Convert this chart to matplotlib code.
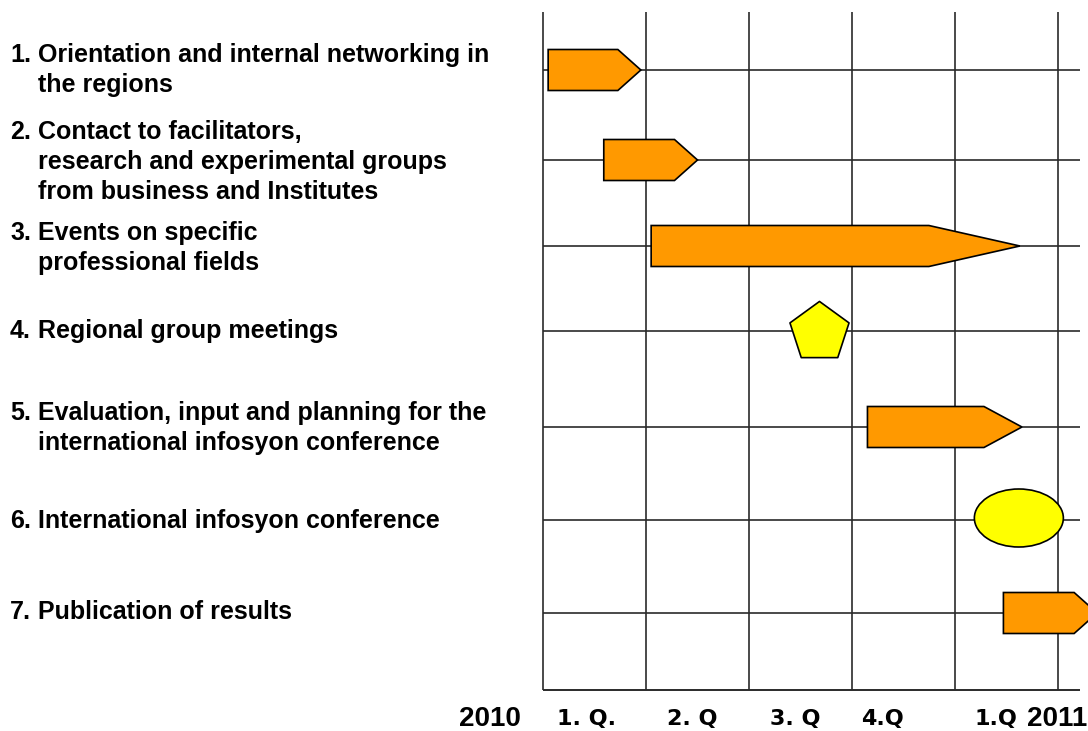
import matplotlib
matplotlib.use("Agg")
import matplotlib.pyplot as plt
import matplotlib.transforms as mtransforms
from matplotlib.patches import Polygon, Ellipse

# tasks, top to bottom
task_nums = ["1.", "2.", "3.", "4.", "5.", "6.", "7."]
task_text = [
    "Orientation and internal networking in\nthe regions",
    "Contact to facilitators,\nresearch and experimental groups\nfrom business and Institutes",
    "Events on specific\nprofessional fields",
    "Regional group meetings",
    "Evaluation, input and planning for the\ninternational infosyon conference",
    "International infosyon conference",
    "Publication of results",
]
task_kind = ["arrow", "arrow", "arrow", "pentagon", "arrow", "ellipse", "arrow"]
# time in quarters counted from the start of 2010 (events: start == end == centre)
task_start = [0.05, 0.59, 1.05, 2.68, 3.15, 4.62, 4.47]
task_end = [0.95, 1.50, 4.63, 2.68, 4.65, 4.62, 5.38]

quarter_labels = ["1. Q.", "2. Q", "3. Q", "4.Q", "1.Q"]
year_labels = ["2010", "2011"]

# layout (pixels of the 1088x731 canvas)
PX_Q = 103.0                      # pixels per quarter
row_y = [70, 160, 246, 331, 427, 520, 613]
label_y = [70, 162, 248, 331, 428, 521, 612]
head_px = [23, 23, 91, 0, 38, 0, 23]
bar_h = 41
quarter_label_x = [0.42, 1.45, 2.45, 3.30, 4.40]
year_label_x = [-0.52, 4.70]
orange = "#FF9900"
yellow = "#FFFF00"
gridc = "#2a2a2a"

fig = plt.figure(figsize=(10.88, 7.31), dpi=100)
fig.patch.set_facecolor("white")

x_max = (1080 - 543) / PX_Q
ax = fig.add_axes([543 / 1088, 1 - 690 / 731, 537 / 1088, 678 / 731])
ax.set_xlim(0, x_max)
ax.set_ylim(690, 12)
ax.axis("off")

# grid
ax.vlines(range(6), 12, 690, colors=gridc, lw=1.2, zorder=1, clip_on=False)
ax.hlines(row_y, 0, x_max, colors=gridc, lw=1.2, zorder=1, clip_on=False)
ax.hlines(690, 0, x_max, colors=gridc, lw=1.4, zorder=1, clip_on=False)

for i, kind in enumerate(task_kind):
    y = row_y[i]
    if kind == "arrow":
        x0, x1 = task_start[i], task_end[i]
        hx = head_px[i] / PX_Q
        pts = [(x0, y - bar_h / 2), (x1 - hx, y - bar_h / 2), (x1, y),
               (x1 - hx, y + bar_h / 2), (x0, y + bar_h / 2)]
        ax.add_patch(Polygon(pts, closed=True, facecolor=orange, edgecolor="black",
                             lw=1.2, zorder=3, clip_on=False))
    elif kind == "pentagon":
        ax.scatter([task_start[i]], [y + 1], marker="p", s=2000, c=yellow,
                   edgecolors="black", linewidths=1.2, zorder=3, clip_on=False)
    else:
        ax.add_patch(Ellipse((task_start[i], y - 2), 89 / PX_Q, 58, facecolor=yellow,
                             edgecolor="black", lw=1.2, zorder=3, clip_on=False))

# task labels on the left
tr = mtransforms.blended_transform_factory(fig.transFigure, ax.transData)
for i in range(len(task_text)):
    n_lines = task_text[i].count("\n") + 1
    fig.text(10 / 1088, label_y[i], task_nums[i] + "\n" * (n_lines - 1), transform=tr,
             ha="left", va="center", fontsize=18, fontweight="bold",
             family="Liberation Sans", linespacing=1.3)
    fig.text(38 / 1088, label_y[i], task_text[i], transform=tr,
             ha="left", va="center", fontsize=18, fontweight="bold",
             family="Liberation Sans", linespacing=1.3)

# time axis labels
for lab, xq in zip(quarter_labels, quarter_label_x):
    ax.text(xq, 719, lab, ha="center", va="center", fontsize=16,
            fontweight="bold", family="DejaVu Sans")
ax.text(year_label_x[0], 719, year_labels[0], ha="center", va="center",
        fontsize=20, fontweight="bold", family="Liberation Sans")
ax.text(year_label_x[1], 719, year_labels[1], ha="left", va="center",
        fontsize=20, fontweight="bold", family="Liberation Sans")

fig.savefig("out.png", dpi=100, facecolor="white")
